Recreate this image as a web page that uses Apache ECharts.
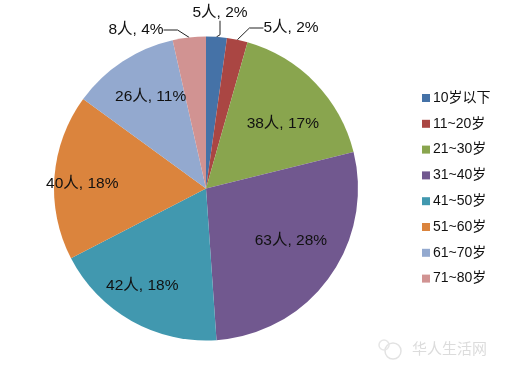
<!DOCTYPE html>
<html><head><meta charset="utf-8">
<style>html,body{margin:0;padding:0;background:#fff}#c{width:505px;height:373px}</style>
<script src="https://cdn.jsdelivr.net/npm/echarts@6/dist/echarts.min.js"></script>
</head><body><div id="c"></div>
<script>
var categories = ['10岁以下','11~20岁','21~30岁','31~40岁','41~50岁','51~60岁','61~70岁','71~80岁'];
var people = [5,5,38,63,42,40,26,8];
var percents = [2,2,17,28,18,18,11,4];
var colors = ['#4572a7','#aa4643','#89a54e','#71588f','#4198af','#db843d','#93a9cf','#d19392'];
var font = '"Liberation Sans","Noto Sans CJK SC",sans-serif';
var outerLabels = {0:[220,13],1:[291,28],7:[136,30]};
var innerOffsets = {2:[20,-10],3:[21,6],4:[-25,28],5:[-45,1],6:[-12,-26]};
var chart = echarts.init(document.getElementById('c'),null,{renderer:'canvas'});
chart.setOption({
  animation:false,
  backgroundColor:'#fff',
  color:colors,
  legend:{
    orient:'vertical',left:417,top:86,itemWidth:8,itemHeight:8,itemGap:11.8,icon:'rect',
    textStyle:{fontFamily:font,fontSize:14,color:'#111',padding:[0,0,0,-2]},
    data:categories
  },
  series:[{
    type:'pie',center:[206,188.5],radius:[0,152],startAngle:90,
    itemStyle:{borderWidth:0},
    label:{
      fontFamily:font,fontSize:15.5,color:'#111',
      formatter:function(p){return p.value+'人, '+percents[p.dataIndex]+'%';}
    },
    labelLine:{show:true,length:5,length2:14,lineStyle:{color:'#222',width:1}},
    labelLayout:function(p){
      var o=outerLabels[p.dataIndex];
      if(o) return {x:o[0],y:o[1],align:'center',verticalAlign:'middle'};
      var d=innerOffsets[p.dataIndex];
      return {dx:d[0],dy:d[1]};
    },
    data:people.map(function(v,i){
      return {name:categories[i],value:v,
        label:{position:outerLabels[i]?'outside':'inside'},
        labelLine:{show:!!outerLabels[i]}};
    })
  }],
  graphic:[
    {type:'text',left:412,top:341,style:{text:'华人生活网',font:'15px "Noto Sans CJK SC"',fill:'#dcdcdc'}},
    {type:'circle',shape:{cx:393,cy:351,r:8},style:{fill:'none',stroke:'#e2e2e2',lineWidth:1.5}},
    {type:'circle',shape:{cx:384,cy:345,r:5},style:{fill:'none',stroke:'#e6e6e6',lineWidth:1.5}}
  ]
});
</script></body></html>
